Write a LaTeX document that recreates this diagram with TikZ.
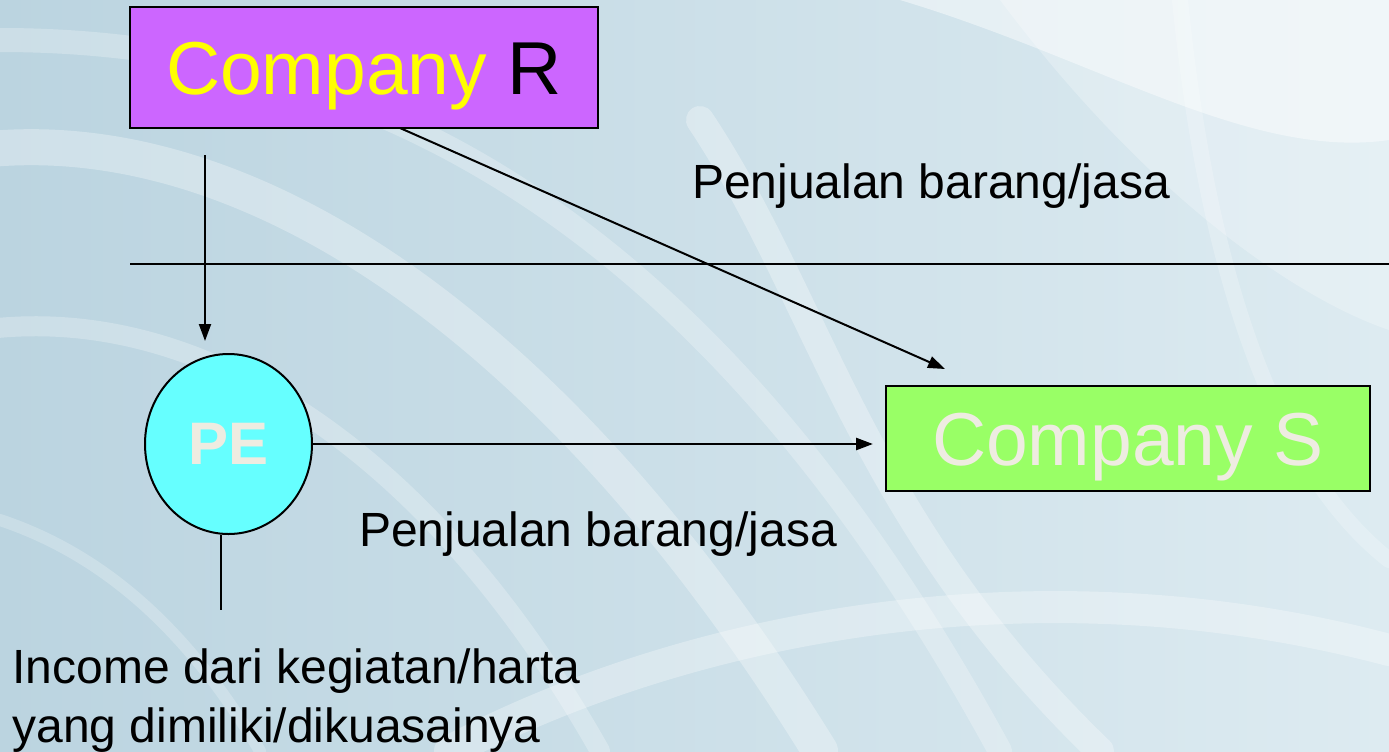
\documentclass[tikz,border=0pt]{standalone}
\usepackage{fontspec}
\setmainfont{Liberation Sans}
\usetikzlibrary{arrows.meta,shapes.geometric}
\definecolor{bgA}{HTML}{BBD4E0}
\definecolor{bgB}{HTML}{DDEBF1}
\definecolor{violetbox}{HTML}{CC66FF}
\definecolor{cyanpe}{HTML}{66FFFF}
\definecolor{greenbox}{HTML}{99FF66}
\definecolor{offwhite}{HTML}{EEECE1}
\definecolor{yellowtxt}{HTML}{FFFF00}
\begin{document}
\begin{tikzpicture}[x=0.5pt,y=-0.5pt,
  bigbox/.style={draw=black,line width=1.3pt,inner sep=0pt,text height=35pt,text depth=7.8pt,font=\fontsize{37.5pt}{44pt}\selectfont},
  pebox/.style={ellipse,draw=black,line width=1pt,fill=cyanpe,inner sep=0pt,minimum width=83.5pt,minimum height=90pt,text=offwhite,font=\fontsize{30pt}{36pt}\selectfont\bfseries},
  lbl/.style={inner sep=0pt,font=\fontsize{24pt}{29.5pt}\selectfont},
  arr/.style={line width=1pt,-{Triangle[length=8.5pt,width=6pt]}},
  plain/.style={line width=1pt},
  swirl/.style={white,line cap=round}]
\useasboundingbox (0,0) rectangle (1389,751);
% background
\fill[left color=bgA,right color=bgB] (0,0) rectangle (1389,751);
\fill[white,opacity=0.45] (900,0) .. controls (1100,60) and (1250,160) .. (1389,140) -- (1389,0) -- cycle;
\fill[white,opacity=0.25] (1000,0) .. controls (1150,200) and (1300,300) .. (1389,330) -- (1389,0) -- cycle;
\draw[swirl,opacity=0.30,line width=18pt] (-20,150) .. controls (250,120) and (560,330) .. (820,751);
\draw[swirl,opacity=0.25,line width=10pt] (-20,330) .. controls (200,300) and (430,450) .. (600,751);
\draw[swirl,opacity=0.25,line width=12pt] (0,40) .. controls (350,40) and (700,200) .. (1000,751);
\draw[swirl,opacity=0.30,line width=14pt] (700,120) .. controls (820,300) and (860,520) .. (1100,751);
\draw[swirl,opacity=0.22,line width=8pt] (1180,0) .. controls (1200,200) and (1250,450) .. (1389,560);
\draw[swirl,opacity=0.30,line width=16pt] (450,751) .. controls (700,620) and (1050,560) .. (1389,650);
\draw[swirl,opacity=0.22,line width=6pt] (0,520) .. controls (120,560) and (200,650) .. (260,751);
% nodes
\node[bigbox,fill=violetbox,minimum width=234pt,minimum height=60.5pt] (R) at (364,67.5) {\textcolor{yellowtxt}{Company} R};
\node[bigbox,fill=greenbox,minimum width=242pt,minimum height=52.5pt,text=offwhite] (S) at (1128,438.5) {Company S};
\node[pebox] (PE) at (228.5,444) {PE};
\node[lbl] (t1) at (931,186) {Penjualan barang/jasa};
\node[lbl] (t2) at (598,534) {Penjualan barang/jasa};
\node[lbl,align=left,anchor=west] (t3) at (12,701) {Income dari kegiatan/harta\\yang dimiliki/dikuasainya};
% coordinates
\coordinate (a1) at (205,155);
\coordinate (a2) at (205,341);
\coordinate (d1) at (400,128);
\coordinate (d2) at (945,369);
\coordinate (h2) at (873,444);
\coordinate (v1) at (221,535);
\coordinate (v2) at (221,610);
\coordinate (l1) at (130,264);
\coordinate (l2) at (1389,264);
% connectors
\draw[plain] (l1) -- (l2);
\draw[arr] (a1) -- (a2);
\draw[arr] (d1) -- (d2);
\draw[arr,line width=1.3pt] (PE.east) -- (h2);
\draw[plain,line width=0.8pt] (v1) -- (v2);
\end{tikzpicture}
\end{document}
